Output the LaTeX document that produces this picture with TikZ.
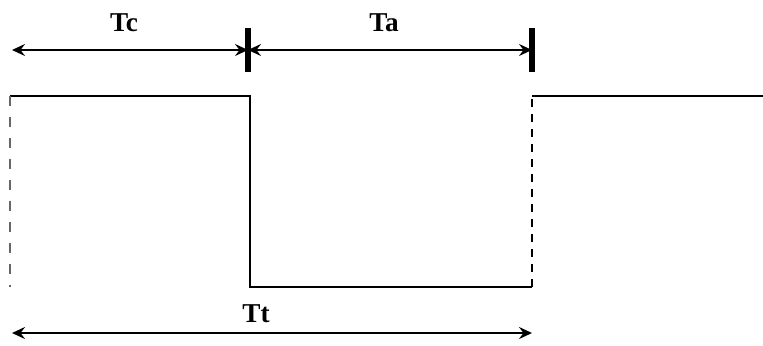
\documentclass[tikz,border=0pt]{standalone}
\usepackage{fontspec}
\setmainfont{Liberation Serif}
\usetikzlibrary{arrows.meta, positioning}

\begin{document}
\begin{tikzpicture}[
    x=0.02cm, y=-0.02cm,
    label/.style={font=\fontsize{15.5}{18}\selectfont\bfseries, inner sep=0pt},
    span/.style={{Stealth[length=2.6mm, width=2.4mm, inset=0.9mm]}-{Stealth[length=2.6mm, width=2.4mm, inset=0.9mm]}, line width=1.4pt},
    marker/.style={line width=3.4pt},
    wave/.style={line width=1pt},
    edgehi/.style={line width=1.5pt, dash pattern=on 0.16cm off 0.14cm},
    edgelo/.style={line width=1pt, black!60, dash pattern=on 0.2cm off 0.22cm}
]
\useasboundingbox (0,0) rectangle (763,345);

\coordinate (tcL) at (12,50);
\coordinate (mid) at (248,50);
\coordinate (taR) at (532,50);
\coordinate (midtop) at (248,28);
\coordinate (midbot) at (248,72);
\coordinate (endtop) at (532,28);
\coordinate (endbot) at (532,72);

\coordinate (hiA) at (10,96);
\coordinate (hiB) at (250,96);
\coordinate (loB) at (250,287);
\coordinate (loC) at (532,287);
\coordinate (hiC) at (532,96);
\coordinate (hiD) at (763,96);
\coordinate (loA) at (10,287);

\coordinate (ttL) at (12,333);
\coordinate (ttR) at (532,333);

\node[label] (tc) at (124,23) {Tc};
\node[label] (ta) at (384,23) {Ta};
\node[label] (tt) at (256,314) {Tt};

\draw[span] (tcL) -- (mid);
\draw[span] (mid) -- (taR);
\draw[marker] (midtop) -- (midbot);
\draw[marker] (endtop) -- (endbot);

\draw[wave] (hiA) -- (hiB) -- (loB) -- (loC);
\draw[wave] (hiC) -- (hiD);
\draw[edgehi] (loC) -- (hiC);
\draw[edgelo] (hiA) -- (loA);

\draw[span] (ttL) -- (ttR);
\end{tikzpicture}
\end{document}
